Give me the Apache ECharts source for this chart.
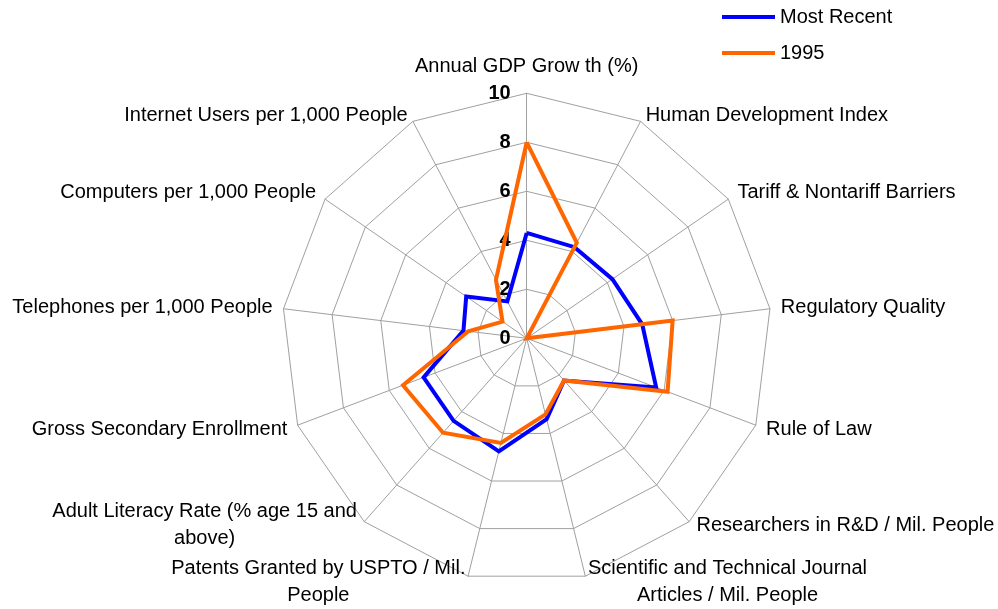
<!DOCTYPE html>
<html><head><meta charset="utf-8">
<script src="https://cdn.jsdelivr.net/npm/echarts@6/dist/echarts.min.js"></script>
<style>html,body{margin:0;padding:0;background:#fff}#c{width:998px;height:609px}</style>
</head><body><div id="c"></div>
<script>
// Indicators in clockwise order starting at the top
const indicatorNames = [
  'Annual GDP Grow th (%)',
  'Human Development Index',
  'Tariff & Nontariff Barriers',
  'Regulatory Quality',
  'Rule of Law',
  'Researchers in R&D / Mil. People',
  'Scientific and Technical Journal\nArticles / Mil. People',
  'Patents Granted by USPTO / Mil.\nPeople',
  'Adult Literacy Rate (% age 15 and\nabove)',
  'Gross Secondary Enrollment',
  'Telephones per 1,000 People',
  'Computers per 1,000 People',
  'Internet Users per 1,000 People'
];
const mostRecent = [4.3, 4.2, 4.25, 4.75, 5.65, 2.3, 3.4, 4.75, 4.5, 4.5, 2.6, 3.0, 1.7];
const y1995      = [8.0, 4.4, 0,    6.0,  6.15, 2.3, 3.2, 4.4,  5.15, 5.4, 2.4, 1.2, 2.7];
const seriesNames = ['Most Recent', '1995'];
const seriesColors = ['#0000FF', '#FF6600'];
const axisMin = 0, axisMax = 10, axisSplits = 5;

const FONT = "'Liberation Sans', Arial, sans-serif";
// ECharts places indicators counter-clockwise; reorder so they appear clockwise
const order = [0];
for (let i = indicatorNames.length - 1; i >= 1; i--) order.push(i);
const reorder = arr => order.map(i => arr[i]);

const indicators = reorder(indicatorNames).map((n, i) => {
  const o = { name: n, min: axisMin, max: axisMax };
  if (i === 0) o.axisLabel = { show: true };
  return o;
});

const baseTxt = { fontFamily: FONT, fontSize: 20, color: '#000' };
const chart = echarts.init(document.getElementById('c'), null, { renderer: 'canvas' });
chart.setOption({
  backgroundColor: '#fff',
  animation: false,
  legend: {
    orient: 'vertical',
    left: 717, top: 2,
    itemWidth: 53, itemHeight: 4, itemGap: 16,
    icon: 'rect',
    textStyle: baseTxt,
    data: seriesNames
  },
  radar: {
    center: [526.7, 338.3],
    radius: 245,
    shape: 'polygon',
    splitNumber: axisSplits,
    nameGap: 11,
    indicator: indicators,
    axisName: {
      color: '#000', fontFamily: FONT, fontSize: 20,
      formatter: function (name) {
        if (name.indexOf('\n') >= 0) {
          return name.split('\n').map(s => '{c|' + s + '}').join('\n');
        }
        if (name.indexOf('Annual') === 0) return '{t|' + name + '}';
        if (name.indexOf('Researchers') === 0) return '{u|' + name + '}';
        if (name.indexOf('Human') === 0 || name.indexOf('Internet') === 0) return '{d|' + name + '}';
        return name;
      },
      rich: {
        c: Object.assign({ align: 'center', lineHeight: 27, padding: [0, 0, 10, 0] }, baseTxt),
        t: Object.assign({ padding: [0, 0, 6, 0] }, baseTxt),
        u: Object.assign({ padding: [0, 0, 8, 0] }, baseTxt),
        d: Object.assign({ padding: [8, 0, 0, 0] }, baseTxt)
      }
    },
    axisLine: { lineStyle: { color: '#a0a0a0', width: 1 } },
    splitLine: { lineStyle: { color: '#a0a0a0', width: 1 } },
    splitArea: { show: false },
    axisLabel: {
      show: false, fontFamily: FONT, fontSize: 20, fontWeight: 'bold', color: '#000', margin: 16
    }
  },
  series: [{
    type: 'radar',
    symbol: 'none',
    data: [
      { name: seriesNames[0], value: reorder(mostRecent),
        lineStyle: { color: seriesColors[0], width: 4, join: 'miter' },
        itemStyle: { color: seriesColors[0] } },
      { name: seriesNames[1], value: reorder(y1995),
        lineStyle: { color: seriesColors[1], width: 4, join: 'miter' },
        itemStyle: { color: seriesColors[1] } }
    ]
  }]
});
</script>
</body></html>
